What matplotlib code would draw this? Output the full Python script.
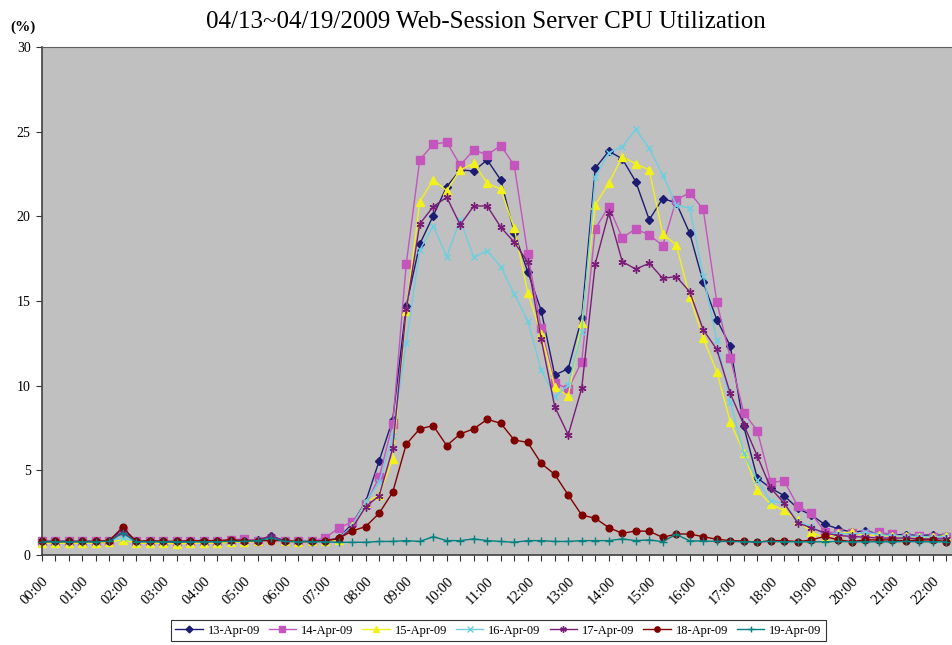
import numpy as np
import matplotlib
matplotlib.use("Agg")
import matplotlib.pyplot as plt
from matplotlib.ticker import FixedLocator

plt.rcParams["font.family"] = ["Liberation Serif", "DejaVu Serif"]

# 20-minute samples, 00:00 .. 22:20
hour_labels = ["%02d:00" % h for h in range(23)]

apr13 = [0.8, 0.8, 0.8, 0.8, 0.8, 0.85, 1.55, 0.8, 0.8, 0.8, 0.75, 0.8, 0.8, 0.8, 0.85, 0.85,
         0.9, 1.1, 0.85, 0.8, 0.85, 0.85,
         1.0, 1.85, 3.15, 5.57, 8.0, 14.7, 18.35, 20.04, 21.75, 22.74, 22.68, 23.33, 22.15, 19.04,
         16.73, 14.43, 10.63, 11.0, 14.0, 22.84, 23.85, 23.4, 22.05, 19.8, 21.05, 20.8, 19.0, 16.1,
         13.9, 12.35, 7.6, 4.55, 3.95, 3.5, 2.75, 2.36, 1.81, 1.55, 1.34, 1.43, 1.25, 1.2, 1.2,
         1.15, 1.2, 1.15]
apr14 = [0.8, 0.8, 0.8, 0.8, 0.8, 0.85, 1.4, 0.8, 0.8, 0.8, 0.8, 0.85, 0.8, 0.8, 0.9, 0.95,
         0.85, 0.95, 0.85, 0.85, 0.85, 1.0,
         1.6, 1.95, 3.0, 4.6, 7.74, 17.17, 23.33, 24.26, 24.38, 23.02, 23.92, 23.63, 24.18, 23.02,
         17.78, 13.39, 10.18, 9.79, 11.42, 19.26, 20.57, 18.74, 19.26, 18.9, 18.27, 20.97, 21.4,
         20.42, 14.96, 11.65, 8.41, 7.34, 4.29, 4.37, 2.89, 2.46, 1.38, 1.3, 1.3, 1.25, 1.34, 1.22,
         1.08, 1.1, 1.05, 1.05]
apr15 = [0.7, 0.7, 0.7, 0.7, 0.7, 0.75, 0.9, 0.7, 0.7, 0.7, 0.65, 0.7, 0.7, 0.7, 0.75, 0.75,
         0.8, 0.95, 0.8, 0.75, 0.8, 0.8,
         0.9, 1.7, 3.1, 3.55, 5.65, 14.41, 20.87, 22.15, 21.52, 22.74, 23.13, 21.96, 21.6, 19.3,
         15.49, 13.05, 9.94, 9.39, 13.72, 20.67, 21.95, 23.53, 23.1, 22.74, 18.96, 18.31, 15.26,
         12.8, 10.83, 7.87, 6.04, 3.84, 2.99, 2.63, 2.05, 1.36, 1.0, 1.28, 1.35, 1.15, 1.2, 1.1,
         1.1, 1.05, 1.05, 1.15]
apr16 = [0.85, 0.8, 0.8, 0.8, 0.8, 0.85, 1.0, 0.8, 0.8, 0.8, 0.8, 0.8, 0.8, 0.8, 0.85, 0.85,
         0.85, 1.0, 0.85, 0.85, 0.85, 0.85,
         1.0, 1.7, 3.14, 4.3, 7.0, 12.54, 18.0, 19.43, 17.62, 19.79, 17.58, 17.97, 17.03, 15.41,
         13.84, 10.93, 9.35, 10.04, 13.19, 22.3, 23.75, 24.12, 25.14, 24.02, 22.45, 20.67, 20.48,
         16.5, 12.7, 9.06, 6.0, 4.4, 3.2, 3.05, 2.0, 1.67, 1.23, 1.3, 1.2, 1.35, 1.2, 1.15, 1.1,
         1.1, 1.05, 1.1]
apr17 = [0.8, 0.8, 0.8, 0.8, 0.8, 0.85, 1.35, 0.8, 0.8, 0.8, 0.8, 0.8, 0.8, 0.8, 0.85, 0.85,
         0.85, 1.15, 0.8, 0.8, 0.8, 0.85,
         0.95, 1.6, 2.85, 3.5, 6.3, 14.5, 19.55, 20.57, 21.13, 19.49, 20.61, 20.61, 19.36, 18.47,
         17.3, 12.74, 8.76, 7.09, 9.85, 17.19, 20.2, 17.33, 16.88, 17.23, 16.34, 16.44, 15.55,
         13.3, 12.15, 9.55, 7.7, 5.85, 3.95, 3.05, 1.9, 1.6, 1.3, 1.15, 1.1, 1.05, 1.0, 1.0, 1.0,
         0.95, 0.95, 0.95]
apr18 = [0.8, 0.8, 0.8, 0.8, 0.8, 0.85, 1.63, 0.8, 0.85, 0.8, 0.8, 0.85, 0.85, 0.85, 0.9, 0.85,
         0.85, 0.85, 0.85, 0.8, 0.8, 0.85,
         0.98, 1.42, 1.68, 2.47, 3.71, 6.54, 7.45, 7.64, 6.46, 7.15, 7.45, 8.01, 7.78, 6.79, 6.65,
         5.41, 4.76, 3.54, 2.36, 2.17, 1.62, 1.28, 1.42, 1.4, 1.04, 1.24, 1.24, 1.08, 0.93, 0.85,
         0.83, 0.75, 0.85, 0.85, 0.79, 0.89, 1.1, 0.89, 0.79, 0.89, 0.89, 0.89, 0.83, 0.89, 0.89,
         0.79]
apr19 = [0.78, 0.78, 0.78, 0.78, 0.78, 0.8, 1.3, 0.78, 0.78, 0.78, 0.78, 0.78, 0.78, 0.78, 0.8,
         0.8, 0.85, 1.0, 0.8, 0.78, 0.78, 0.78,
         0.75, 0.75, 0.75, 0.8, 0.8, 0.85, 0.8, 1.08, 0.85, 0.85, 0.95, 0.85, 0.8, 0.75, 0.85,
         0.85, 0.8, 0.8, 0.85, 0.85, 0.85, 0.95, 0.85, 0.89, 0.79, 1.22, 0.83, 0.83, 0.8, 0.8,
         0.78, 0.78, 0.8, 0.78, 0.78, 0.78, 0.78, 0.8, 0.78, 0.78, 0.78, 0.78, 0.8, 0.78, 0.78,
         0.78]

series = [
    ("13-Apr-09", apr13, "#1c1c72", "D", 4.3),
    ("14-Apr-09", apr14, "#c455bc", "s", 5.3),
    ("15-Apr-09", apr15, "#f2f21a", "^", 5.8),
    ("16-Apr-09", apr16, "#6ccfe0", "x", 4.8),
    ("17-Apr-09", apr17, "#7a1d78", (6, 2, 0), 5.8),
    ("18-Apr-09", apr18, "#800000", "o", 4.8),
    ("19-Apr-09", apr19, "#008080", "+", 6.0),
]

fig = plt.figure(figsize=(9.53, 6.45), dpi=100)
ax = fig.add_axes([41.7 / 953, 1 - 555 / 645, 1 - 41.7 / 953, 508 / 645])
ax.set_facecolor("#c0c0c0")

for name, vals, col, mk, ms in series:
    x = np.arange(len(vals))
    ax.plot(x, vals, color=col, lw=1.0, marker=mk, ms=ms, mec=col, mfc=col,
            mew=1.0, label=name, clip_on=False)

ax.set_xlim(0, 67.5)
ax.set_ylim(0, 30)
ax.set_yticks(range(0, 31, 5))
ax.set_xticks([3 * h for h in range(len(hour_labels))])
ax.set_xticklabels(hour_labels, rotation=45, ha="right", va="top",
                   rotation_mode="anchor", fontsize=10.5)
ax.xaxis.set_minor_locator(FixedLocator(np.arange(0, 68)))
ax.tick_params(axis="x", which="both", length=4, width=0.8, color="#333333",
               direction="out", pad=10)
ax.tick_params(axis="y", length=4, width=0.8, color="#333333", labelsize=10,
               pad=4)
for s in ["left", "bottom"]:
    ax.spines[s].set_color("#404040")
    ax.spines[s].set_linewidth(1.2)
ax.spines["top"].set_color("#606060")
ax.spines["top"].set_linewidth(0.8)
ax.spines["right"].set_visible(False)

fig.text(0.51, 0.966, "04/13~04/19/2009 Web-Session Server CPU Utilization",
         ha="center", va="center", fontsize=18)
fig.text(0.011, 0.958, "(%)", ha="left", va="center", fontsize=11,
         fontweight="bold")

leg = fig.legend(loc="center", bbox_to_anchor=(0.523, 0.022), ncol=7,
                 fontsize=9, frameon=True, fancybox=False, handlelength=2.2,
                 handletextpad=0.4, columnspacing=0.7, borderpad=0.35,
                 markerscale=0.8)
leg.get_frame().set_edgecolor("black")
leg.get_frame().set_linewidth(0.8)

fig.savefig("out.png", dpi=100, facecolor="white")
